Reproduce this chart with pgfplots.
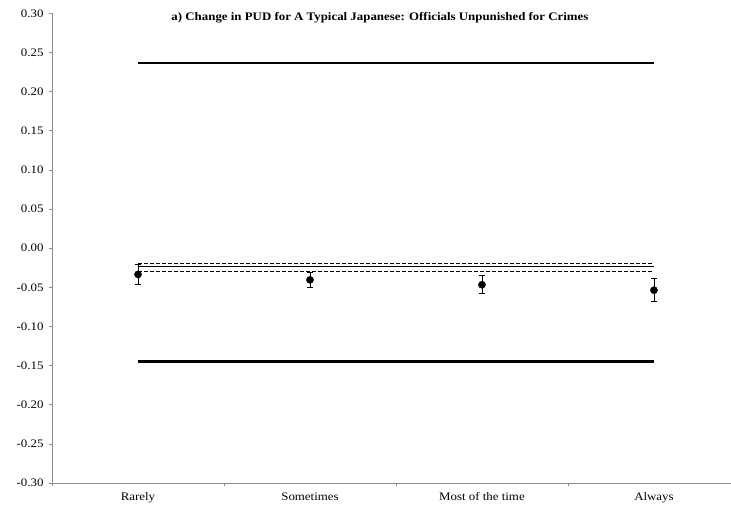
\documentclass[border=0pt]{standalone}
\usepackage{fontspec}
\setmainfont{Liberation Serif}[FakeStretch=1.12]
\usepackage{pgfplots}
\pgfplotsset{compat=1.18}
\begin{document}
\begin{tikzpicture}
\begin{axis}[
  scale only axis,
  width=679pt, height=469.7pt,
  xmin=0.5, xmax=4.448,
  ymin=-0.30, ymax=0.30,
  axis x line*=bottom, axis y line*=left,
  axis line style={draw=gray!90, line width=0.8pt},
  ytick={-0.30,-0.25,...,0.31},
  yticklabel style={/pgf/number format/fixed, /pgf/number format/fixed zerofill, /pgf/number format/precision=2, /pgf/number format/assume math mode=true, font=\fontsize{11.5}{13}\selectfont, xshift=-2pt},
  xtick={1,2,3,4},
  xticklabels={Rarely,Sometimes,Most of the time,Always},
  xticklabel style={font=\fontsize{11.5}{13}\selectfont, yshift=-3pt},
  minor xtick={0.5,1.5,2.5,3.5},
  tick align=outside,
  major tick length=3pt, minor tick length=3pt,
  x tick style={draw=none},
  y tick style={draw=gray!90, line width=0.6pt},
  minor x tick style={draw=gray!90, line width=0.6pt},
  clip=false,
]
% upper and lower bounds
\addplot[black, line width=2.6pt] coordinates {(1,0.2366) (4,0.2366)};
\addplot[black, line width=2.6pt] coordinates {(1,-0.1445) (4,-0.1445)};
% mean and its interval
\addplot[black, line width=1.1pt] coordinates {(1,-0.0239) (4,-0.0239)};
\addplot[black, line width=1.1pt, dash pattern=on 4pt off 2pt] coordinates {(1,-0.0192) (4,-0.0192)};
\addplot[black, line width=1.1pt, dash pattern=on 4pt off 2pt] coordinates {(1,-0.0294) (4,-0.0294)};
% points with error bars
\addplot[only marks, mark=*, mark size=3.6pt, black,
  error bars/.cd, y dir=both, y explicit,
  error bar style={black, line width=0.9pt},
  error mark options={rotate=90, mark size=2.6pt, black, line width=0.9pt}]
  coordinates {
  (1,-0.0336) +- (0,0.0130)
  (2,-0.0405) +- (0,0.0100)
  (3,-0.0467) +- (0,0.0112)
  (4,-0.0537) +- (0,0.0145)
  };
\node[font=\bfseries\fontsize{11.5}{13}\selectfont] at (rel axis cs:0.483,0.99) {a) Change in PUD for A Typical Japanese: Officials Unpunished for Crimes};
\end{axis}
\pgfresetboundingbox
\path[use as bounding box] (-52pt,-26pt) rectangle (679pt,483pt);
\end{tikzpicture}
\end{document}
